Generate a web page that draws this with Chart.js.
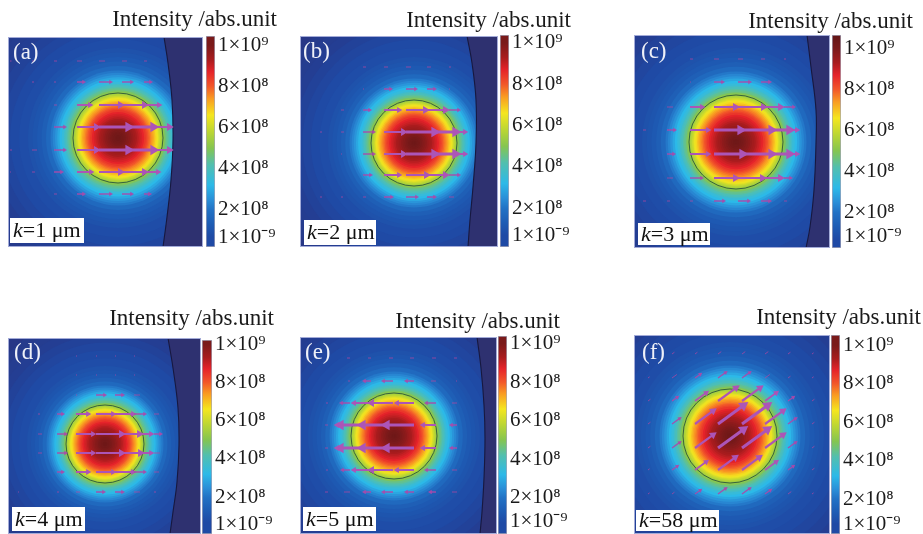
<!DOCTYPE html>
<html>
<head>
<meta charset="utf-8">
<title>Intensity maps</title>
<script src="https://cdn.jsdelivr.net/npm/chart.js@4"></script>
<style>
  html, body { margin: 0; padding: 0; background: #fff; overflow: hidden; width: 923px; height: 534px; }
  .box { position: absolute; filter: blur(0.4px); }
</style>
</head>
<body>
<script>
// texts
const titleText = 'Intensity /abs.unit';
const panelLetters = ['(a)', '(b)', '(c)', '(d)', '(e)', '(f)'];
const kValues = ['1', '2', '3', '4', '5', '58'];
const tickLabels = ['1×10⁻⁹', '2×10⁸', '4×10⁸', '6×10⁸', '8×10⁸', '1×10⁹'];
const tickValues = [2, 4, 6, 8, 10];   // in units of 1e8
const lowTicks = [0.68, 0.68, 0.83, 0.6, 0.75, 0.7];

// radial intensity profile, radius relative to the circle radius, intensity in 1e8
const ringRadius = [5, 3.4, 3.2, 3, 2.8, 2.6, 2.4, 2.2, 2, 1.9, 1.8, 1.7, 1.6, 1.5, 1.45, 1.4, 1.35, 1.3, 1.25, 1.2, 1.17, 1.13, 1.1, 1.06, 1.03, 1, 0.97, 0.94, 0.91, 0.89, 0.86, 0.83, 0.8, 0.77, 0.74, 0.71, 0.68, 0.65, 0.62, 0.58, 0.54, 0.5, 0.46, 0.42, 0.38, 0.34, 0.3, 0.26, 0.22, 0.18, 0.14, 0.1, 0.06, 0.03];
const ringIntensity = [0.2, 0.3, 0.35, 0.4, 0.5, 0.6, 0.7, 0.8, 0.95, 1.05, 1.2, 1.4, 1.7, 2.1, 2.35, 2.6, 2.9, 3.2, 3.45, 3.75, 4, 4.3, 4.5, 4.85, 5.1, 5.4, 5.7, 6, 6.3, 6.5, 6.75, 7, 7.25, 7.45, 7.65, 7.85, 8.05, 8.25, 8.45, 8.7, 8.85, 9, 9.15, 9.3, 9.4, 9.55, 9.7, 9.8, 9.9, 10, 10.1, 10.2, 10.28, 10.3];

// boundary curve right of the beam, offsets from the beam centre
const arcA = [[46, -101], [50, -75], [54, -38], [55, 2], [53, 42], [49, 79], [45, 109]];
const arcB = [[53, -107], [58, -80], [62, -43], [62, 0], [59, 44], [56, 77], [54, 104]];
const arcC = [[71, -107], [75, -75], [80, -32], [80, 1], [78, 48], [74, 85], [70, 106]];
const arcD = [[63, -106], [68, -76], [73, -36], [74, 1], [72, 38], [68, 68], [65, 90]];
const arcE = [[83, -99], [87, -68], [90, -31], [91, 2], [90, 42], [88, 76], [86, 98]];
const arcF = [];

// field arrows: tail grid and arrow length at each grid node
const colsA = [-108, -86, -64, -41, -19, 4, 26];
const rowsA = [-77, -56, -33, -11, 12, 34, 56];
const lensA = [
  [1.5, 2, 3, 5, 6, 5, 3],
  [0, 2, 2, 8, 13, 11, 8],
  [0, 0, 3, 15, 24, 25, 17],
  [0, 1, 12, 22, 33, 35, 28],
  [2, 5, 12, 22, 33, 35, 28],
  [1, 3, 9, 16, 24, 25, 16],
  [0, 0, 3, 8, 13, 11, 7]
];
const colsB = [-94, -73, -51, -30, -8, 13, 35];
const rowsB = [-76, -54, -33, -11, 11, 32, 54];
const lensB = [
  [0, 0, 3, 4, 5, 4, 2],
  [0, 0, 1, 8, 11, 9, 1],
  [0, 3, 8, 17, 22, 21, 11],
  [2, 3, 12, 22, 32, 32, 18],
  [0, 1, 12, 22, 32, 32, 18],
  [0, 0, 9, 17, 23, 21, 11],
  [2, 2, 3, 9, 12, 9, 5]
];
const colsC = [-93, -69, -46, -22, 2, 25, 48];
const rowsC = [-83, -60, -35, -12, 12, 36, 59];
const lensC = [
  [0, 0, 3, 5, 5, 4, 2],
  [0, 0, 1, 10, 13, 10, 0],
  [0, 6, 14, 24, 28, 22, 11],
  [3, 9, 20, 30, 37, 32, 15],
  [0, 8, 20, 32, 37, 32, 15],
  [0, 6, 13, 24, 27, 22, 8],
  [3, 3, 3, 11, 12, 10, 3]
];
const colsD = [-87, -67, -48, -29, -9, 10, 29, 49];
const rowsD = [-88, -69, -49, -30, -10, 9, 28, 48];
const lensD = [
  [0, 0, 1, 1, 1, 1, 1, 0],
  [0, 0, 0, 1, 1, 1, 1, 0],
  [0, 0, 0, 1, 10, 9, 6, 0],
  [0, 2, 7, 14, 19, 20, 12, 5],
  [0, 4, 10, 19, 28, 27, 19, 8],
  [0, 4, 10, 19, 28, 28, 19, 6],
  [0, 1, 7, 14, 19, 20, 12, 5],
  [1, 1, 2, 4, 9, 9, 6, 2]
];
const colsE = [-66, -44, -23, -1, 20, 42, 63];
const rowsE = [-78, -55, -33, -11, 12, 34, 56];
const lensE = [
  [0, -3, -3, -4, -4, -4, -3],
  [0, -2, -8, -11, -9, -5, -1],
  [-2, -10, -19, -24, -19, -11, -5],
  [-3, -15, -34, -34, -31, -15, -7],
  [-3, -15, -34, -34, -31, -15, -7],
  [-2, -9, -19, -24, -19, -11, -5],
  [-3, -6, -8, -11, -9, -7, -5]
];
const colsF = [-82, -58, -35, -12, 12, 35, 58, 82];
const rowsF = [-82, -58, -35, -12, 12, 34, 58];
const lensF = [
  [0, 3, 3, 4, 4, 4, 3, 2],
  [2, 6, 8, 11, 11, 6, 3, 2],
  [3, 8, 16, 25, 25, 16, 8, 3],
  [3, 11, 25, 35, 35, 25, 11, 3],
  [3, 11, 25, 35, 35, 25, 11, 3],
  [2, 8, 16, 24, 24, 16, 8, 3],
  [2, 3, 8, 11, 11, 8, 4, 2]
];

// colour map of the colour bar (value in 1e8, colour)
const mapValues = [0, 0.7, 1.3, 2, 2.5, 3.2, 4.2, 5, 5.8, 6.6, 7.4, 8, 8.7, 9.3, 10, 10.6];
const mapColors = ['#2b2f7a', '#1f4aa5', '#1e5cb4', '#2272c5', '#2a8fd8', '#2cb9e8', '#52bfae', '#85c550', '#bcd633', '#f5e61e', '#f99b22', '#f2572a', '#e5232a', '#a81c1e', '#7a1a1a', '#641616'];

// page layout, one entry per panel
const layout = [
  { l: 8, r: 203, t: 37, b: 247, cx: 118, cy: 138, rad: 45, barL: 206, barR: 215, barT: 36, barB: 247, barMin: 0.2, barMax: 10.44, titleR: 277, titleY: 20, textX: 5, textY: 16, kBox: [10, 84, 218, 243] },
  { l: 300, r: 498, t: 36, b: 247, cx: 414, cy: 143, rad: 43, barL: 500, barR: 509, barT: 35, barB: 247, barMin: 0.13, barMax: 10.38, titleR: 571, titleY: 21, textX: 3, textY: 16, kBox: [304, 376, 220, 245] },
  { l: 634, r: 830, t: 35, b: 248, cx: 736, cy: 142, rad: 47, barL: 832, barR: 841, barT: 35, barB: 248, barMin: 0.27, barMax: 10.65, titleR: 913, titleY: 22, textX: 7, textY: 17, kBox: [638, 710, 223, 245] },
  { l: 8, r: 201, t: 338, b: 534, cx: 105, cy: 444, rad: 39, barL: 202, barR: 212, barT: 340, barB: 534, barMin: 0.08, barMax: 10.21, titleR: 274, titleY: 319, textX: 6, textY: 15, kBox: [12, 85, 507, 531] },
  { l: 300, r: 497, t: 337, b: 534, cx: 394, cy: 436, rad: 43, barL: 498, barR: 507, barT: 336, barB: 534, barMin: 0.12, barMax: 10.39, titleR: 560, titleY: 322, textX: 5, textY: 16, kBox: [303, 376, 507, 531] },
  { l: 634, r: 830, t: 335, b: 534, cx: 730, cy: 436, rad: 47, barL: 831, barR: 840, barT: 335, barB: 534, barMin: 0.18, barMax: 10.53, titleR: 921, titleY: 318, textX: 8, textY: 18, kBox: [636, 719, 510, 531] }
];
const arcs = [arcA, arcB, arcC, arcD, arcE, arcF];
const grids = [[colsA, rowsA, lensA], [colsB, rowsB, lensB], [colsC, rowsC, lensC], [colsD, rowsD, lensD], [colsE, rowsE, lensE], [colsF, rowsF, lensF]];
const arrowDir = [[1, 0], [1, 0], [1, 0], [1, 0], [1, 0], [0.81, -0.59]];

const serif = '"Liberation Serif"';

function hexToRgb(h) {
  return [parseInt(h.slice(1, 3), 16), parseInt(h.slice(3, 5), 16), parseInt(h.slice(5, 7), 16)];
}

// colour for an intensity, same ramp as the colour bar
function colorOf(v) {
  let i = 0;
  while (i < mapValues.length - 2 && v > mapValues[i + 1]) i++;
  const f = Math.min(1, Math.max(0, (v - mapValues[i]) / (mapValues[i + 1] - mapValues[i])));
  const a = hexToRgb(mapColors[i]), b = hexToRgb(mapColors[i + 1]);
  return `rgb(${a.map((c, k) => Math.round(c + (b[k] - c) * f)).join(',')})`;
}

// arrows are grouped by strength, each group is one line dataset with gaps
const arrowStyles = [
  { max: 6, width: 1, head: 0, color: 'rgba(178,70,160,0.75)' },
  { max: 13, width: 1.3, head: 2.5, color: 'rgba(172,72,170,0.9)' },
  { max: 20, width: 1.8, head: 3.5, color: '#ac55b6' },
  { max: 29, width: 2.2, head: 4.5, color: '#ac55b6' },
  { max: 99, width: 3, head: 6, color: '#ac55b8' }
];

function arrowDatasets(p) {
  const [cols, rows, lens] = grids[p];
  const dir = arrowDir[p];
  const sets = arrowStyles.map(s => ({ ...s, points: [] }));
  rows.forEach((y, i) => cols.forEach((x, j) => {
    const len = lens[i][j];
    if (!len) return;
    const s = sets.find(g => Math.abs(len) <= g.max);
    const short = len > 0 ? len - s.head * 0.6 : len + s.head * 0.6;
    s.points.push({ x, y }, { x: x + dir[0] * short, y: y + dir[1] * short }, { x: null, y: null });
  }));
  const rotation = Math.atan2(dir[0], -dir[1]) * 180 / Math.PI;
  return sets.filter(s => s.points.length).map(s => ({
    type: 'line',
    data: s.points,
    order: 1,
    borderColor: s.color,
    backgroundColor: s.color,
    borderWidth: s.width,
    tension: 0,
    clip: 0,
    pointStyle: 'triangle',
    pointBorderWidth: 0,
    pointRotation: ctx => (ctx.dataIndex % 3 === 1 && s.points[ctx.dataIndex].x < s.points[ctx.dataIndex - 1].x) ? rotation + 180 : rotation,
    pointRadius: ctx => ctx.dataIndex % 3 === 1 ? s.head : 0
  }));
}

function addCanvas(left, top, w, h) {
  const div = document.createElement('div');
  div.className = 'box';
  div.style.cssText = `left:${left}px;top:${top}px;width:${w}px;height:${h}px`;
  const c = document.createElement('canvas');
  div.appendChild(c);
  document.body.appendChild(div);
  return c;
}

// panel frame, panel letter and the white k box
const panelText = {
  id: 'panelText',
  afterDraw(chart, args, opts) {
    const { ctx, chartArea: a } = chart;
    const p = opts.index;
    const g = layout[p];
    const dx = a.left - g.l, dy = a.top - g.t;
    ctx.save();
    ctx.strokeStyle = '#a3abd8';
    ctx.lineWidth = 1;
    ctx.strokeRect(Math.round(a.left) + 0.5, Math.round(a.top) + 0.5, Math.round(a.right - a.left) - 1, Math.round(a.bottom - a.top) - 1);
    ctx.fillStyle = '#eef0f8';
    ctx.font = `23px ${serif}`;
    ctx.textBaseline = 'middle';
    ctx.fillText(panelLetters[p], a.left + g.textX, a.top + g.textY);
    const [x0, x1, y0, y1] = g.kBox;
    ctx.fillStyle = '#fff';
    ctx.fillRect(x0 + dx, y0 + dy, x1 - x0, y1 - y0);
    ctx.fillStyle = '#111';
    ctx.font = `italic 22px ${serif}`;
    let x = x0 + dx + 3;
    const y = (y0 + y1) / 2 + dy + 1;
    ctx.fillText('k', x, y);
    x += ctx.measureText('k').width;
    ctx.font = `22px ${serif}`;
    ctx.fillText(`=${kValues[p]} μm`, x, y);
    ctx.restore();
  }
};

const titleSize = 23;
const titleHeight = titleSize * 1.2;

layout.forEach((g, p) => {
  // heat map: filled rings, from the outside in
  const top = Math.round(g.titleY - titleHeight / 2);
  const canvas = addCanvas(g.l, top, g.titleR - g.l, g.b - top);
  const rings = ringRadius.map((r, i) => ({ x: 0, y: 0, r: r * g.rad, v: ringIntensity[i] }));
  const datasets = [{
    type: 'bubble',
    data: rings,
    order: 5,
    clip: 0,
    borderWidth: 0,
    backgroundColor: ctx => colorOf(rings[ctx.dataIndex].v)
  }];
  if (arcs[p].length) {
    datasets.push({
      type: 'line',
      indexAxis: 'y',
      data: arcs[p].map(q => ({ x: q[0], y: q[1] })),
      order: 3,
      clip: 0,
      fill: 'end',
      backgroundColor: '#2e3170',
      borderColor: '#17183f',
      borderWidth: 1.1,
      tension: 0.4,
      pointRadius: 0
    });
  }
  datasets.push({
    type: 'bubble',
    data: [{ x: 0, y: 0, r: g.rad }],
    order: 2,
    clip: 0,
    backgroundColor: 'rgba(0,0,0,0)',
    borderColor: 'rgba(38,80,60,0.85)',
    borderWidth: 1
  });
  datasets.push(...arrowDatasets(p));

  new Chart(canvas, {
    type: 'bubble',
    data: { datasets },
    plugins: [panelText],
    options: {
      responsive: true,
      maintainAspectRatio: false,
      animation: false,
      events: [],
      layout: { autoPadding: false, padding: 0 },
      scales: {
        x: { type: 'linear', display: false, min: g.l - g.cx, max: g.r - g.cx },
        y: { type: 'linear', display: false, reverse: true, min: g.t - g.cy, max: g.b - g.cy },
        // empty axis, only keeps the room under the title free for the colour bar
        spare: {
          type: 'linear',
          axis: 'y',
          position: 'right',
          grid: { display: false },
          border: { display: false },
          ticks: { display: false },
          afterFit: axis => { axis.width = g.titleR - g.r; axis.paddingTop = 0; axis.paddingBottom = 0; }
        }
      },
      plugins: {
        legend: { display: false },
        tooltip: { enabled: false },
        panelText: { index: p },
        title: {
          display: true,
          text: titleText,
          align: 'end',
          color: '#1a1a1a',
          font: { family: serif, size: titleSize, weight: 'normal', lineHeight: 1.2 },
          padding: { top: 0, bottom: g.t - top - titleHeight }
        }
      }
    }
  });

  // colour bar with its tick labels on the right
  const pad = 14;
  const barW = g.barR - g.barL;
  const total = Math.min(923 - g.barL, 90);
  const barCanvas = addCanvas(g.barL, g.barT - pad, total, g.barB - g.barT + pad * 2);
  new Chart(barCanvas, {
    type: 'bar',
    data: {
      labels: [''],
      datasets: [{
        data: [[g.barMin, g.barMax]],
        barPercentage: 1,
        categoryPercentage: 1,
        borderWidth: 1,
        borderSkipped: false,
        borderColor: '#a5a5b8',
        backgroundColor: ctx => {
          const sc = ctx.chart.scales.y;
          if (!sc || !ctx.chart.chartArea) return mapColors[0];
          const grad = ctx.chart.ctx.createLinearGradient(0, sc.getPixelForValue(g.barMin), 0, sc.getPixelForValue(g.barMax));
          mapValues.forEach((v, i) => {
            const s = (v - g.barMin) / (g.barMax - g.barMin);
            if (s >= 0 && s <= 1) grad.addColorStop(s, mapColors[i]);
          });
          return grad;
        }
      }]
    },
    options: {
      responsive: true,
      maintainAspectRatio: false,
      animation: false,
      events: [],
      layout: { padding: { top: pad, bottom: pad, left: 0, right: 0 } },
      scales: {
        x: { display: false },
        y: {
          position: 'right',
          min: g.barMin,
          max: g.barMax,
          grid: { display: false, drawTicks: false, tickLength: 0 },
          border: { display: false },
          afterBuildTicks: axis => { axis.ticks = [lowTicks[p], ...tickValues].map(value => ({ value })); },
          afterFit: axis => {
            axis.width = total - barW;
            axis.paddingTop = 0;
            axis.paddingBottom = 0;
          },
          ticks: {
            autoSkip: false,
            padding: 3,
            color: '#1a1a1a',
            font: { family: serif, size: 21 },
            callback: (value, index) => tickLabels[index]
          }
        }
      },
      plugins: { legend: { display: false }, tooltip: { enabled: false } }
    }
  });
});
</script>
</body>
</html>
